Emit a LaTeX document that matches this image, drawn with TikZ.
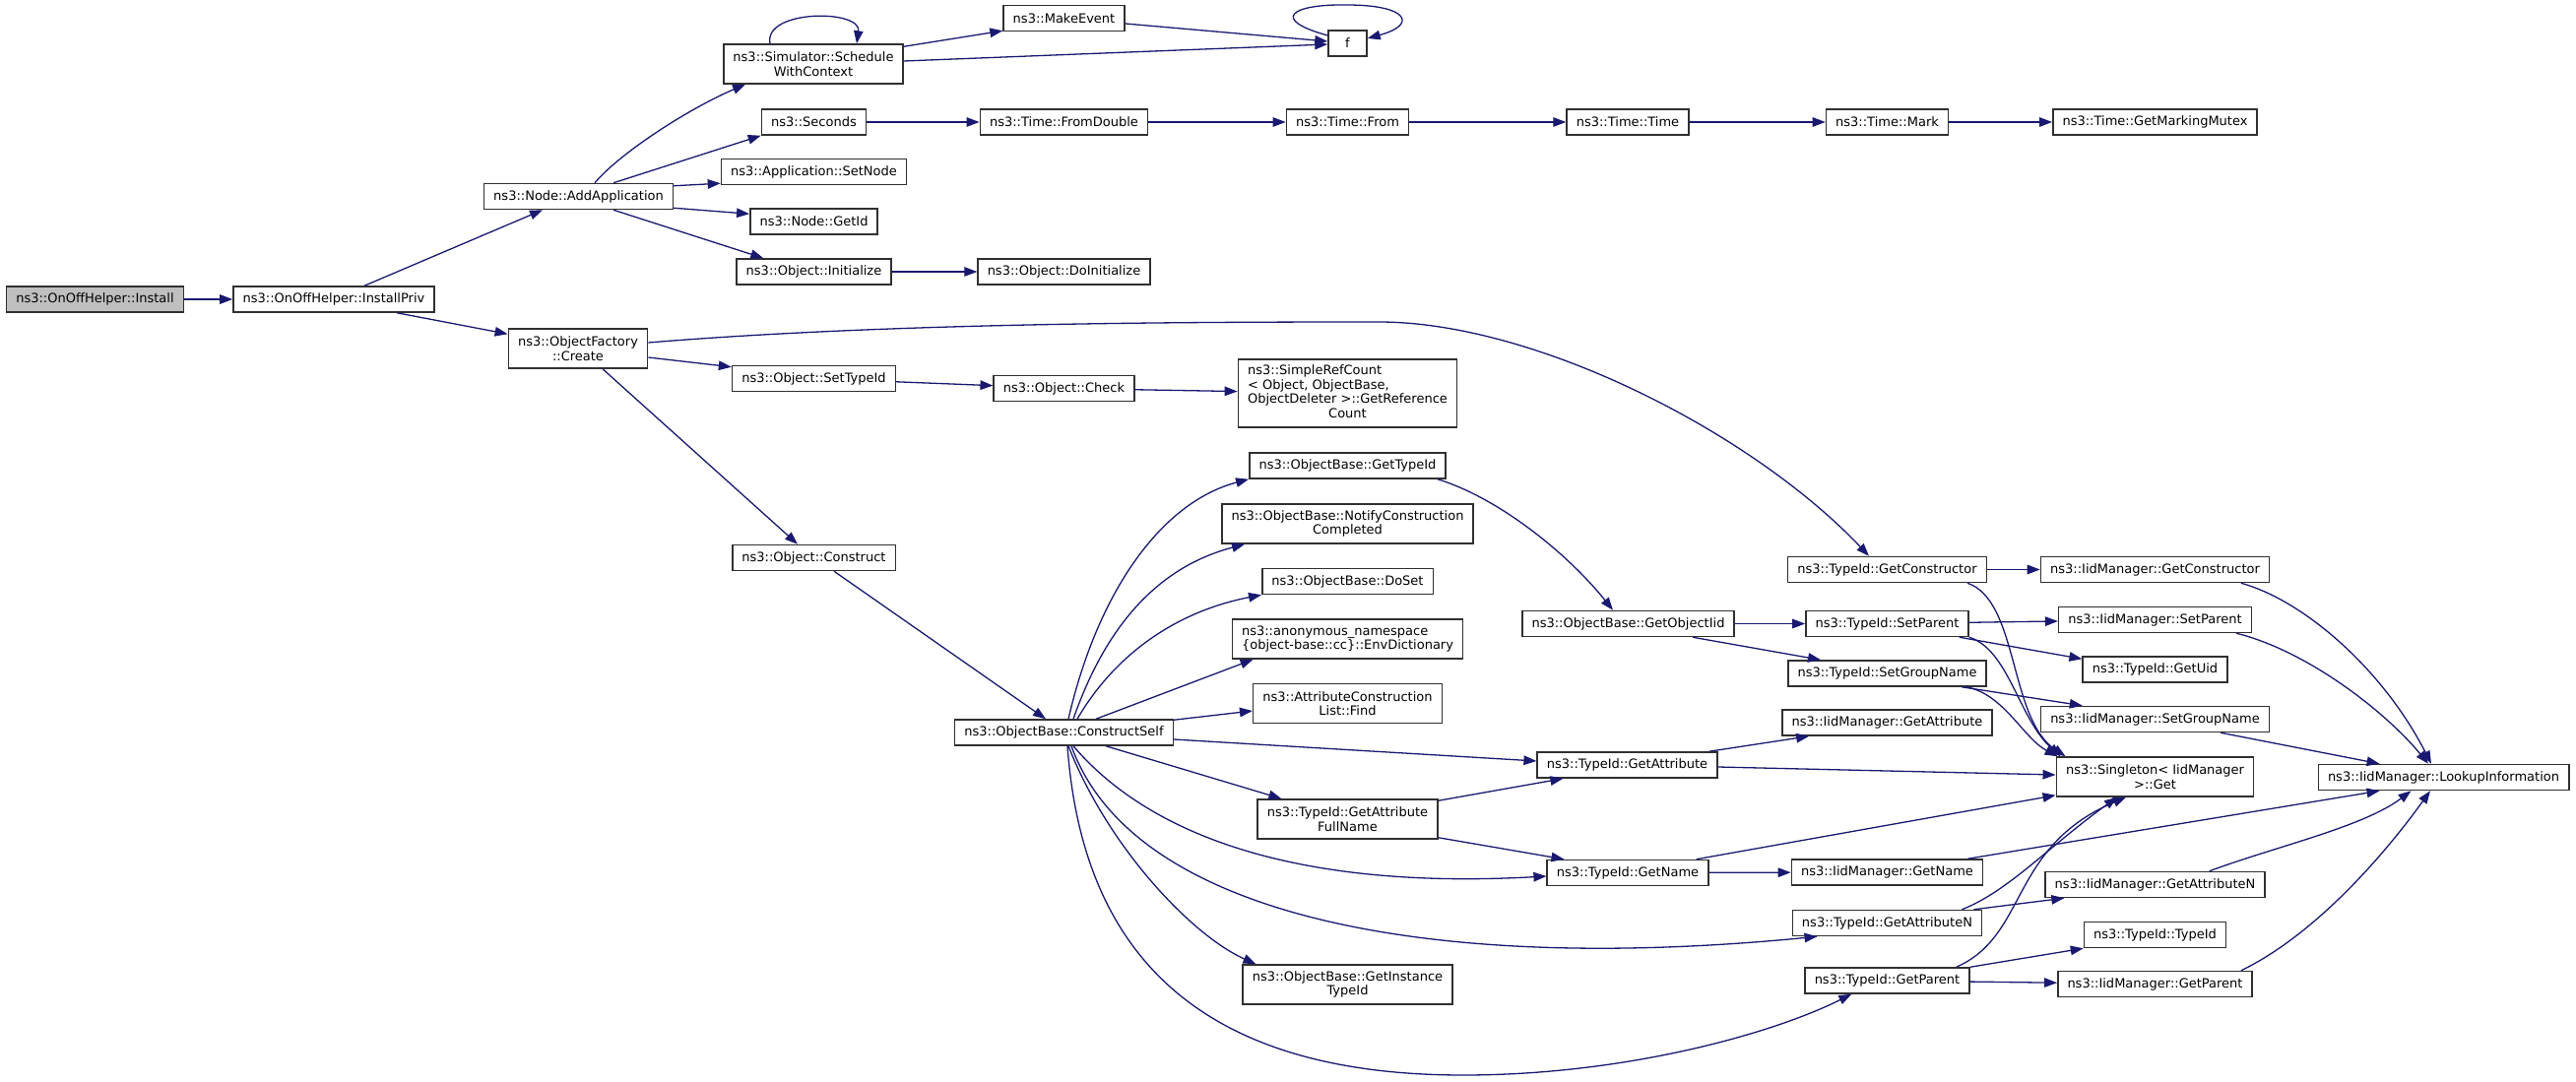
\documentclass[tikz,border=0pt]{standalone}
\usepackage{fontspec}
\setmainfont{DejaVu Sans}
\usepackage{xcolor}
\usepackage{tikz}
\usetikzlibrary{arrows.meta, shapes, positioning}

\definecolor{edgeblue}{HTML}{191970}
\definecolor{nodeborder}{HTML}{303030}
\definecolor{rootfill}{HTML}{BFBFBF}

\begin{document}
\begin{tikzpicture}[
  x=1pt, y=-1pt,
  fnnode/.style={
    draw=nodeborder,
    fill=white,
    rectangle,
    line width=1.5pt,
    align=center,
    inner xsep=9.7pt,
    inner ysep=2pt,
    minimum width=39pt,
    minimum height=26pt,
    font=\fontsize{13}{14.5}\selectfont
  },
  rootnode/.style={fill=rootfill},
  twoline/.style={minimum height=40pt},
  fourline/.style={minimum height=69pt},
  arrow/.style={-{Triangle[length=13pt, width=9.5pt]}, draw=edgeblue, line width=1.3pt}
]
\useasboundingbox (0,0) rectangle (2616,1099);

% Fonctions
\node[fnnode, rootnode] (install) at (96.5,304) {ns3::OnOffHelper::Install};
\node[fnnode] (installpriv) at (339,304) {ns3::OnOffHelper::InstallPriv};
\node[fnnode] (addapp) at (587.5,199.5) {ns3::Node::AddApplication};
\node[fnnode, twoline] (create) at (587,354) {ns3::ObjectFactory\\::Create};

\node[fnnode, twoline] (schedule) at (826,65) {ns3::Simulator::Schedule\\WithContext};
\node[fnnode] (seconds) at (826.5,124) {ns3::Seconds};
\node[fnnode] (setnode) at (826.5,174.5) {ns3::Application::SetNode};
\node[fnnode] (getid) at (826.5,225) {ns3::Node::GetId};
\node[fnnode] (initialize) at (826.5,276) {ns3::Object::Initialize};
\node[fnnode] (settypeid) at (826.5,384.5) {ns3::Object::SetTypeId};
\node[fnnode] (construct) at (826.5,566.5) {ns3::Object::Construct};

\node[fnnode] (makeevent) at (1080.5,18.5) {ns3::MakeEvent};
\node[fnnode] (fromdouble) at (1080.5,124) {ns3::Time::FromDouble};
\node[fnnode] (doinit) at (1080.5,276) {ns3::Object::DoInitialize};
\node[fnnode] (check) at (1080.5,394.5) {ns3::Object::Check};
\node[fnnode] (cself) at (1080.5,744) {ns3::ObjectBase::ConstructSelf};

\node[fnnode] (f) at (1368.5,44) {f};
\node[fnnode] (timefrom) at (1368.5,124) {ns3::Time::From};
\node[fnnode, fourline] (refcount) at (1368.5,399.5) {\begin{tabular}{@{}l@{}}
ns3::SimpleRefCount\\
< Object, ObjectBase,\\
\multicolumn{1}{@{}c@{}}{ObjectDeleter >::GetReference}\\
\multicolumn{1}{@{}c@{}}{Count}
\end{tabular}};
\node[fnnode] (obgettypeid) at (1368.5,473) {ns3::ObjectBase::GetTypeId};
\node[fnnode, twoline] (notify) at (1368.5,532) {ns3::ObjectBase::NotifyConstruction\\Completed};
\node[fnnode] (doset) at (1368.5,590.5) {ns3::ObjectBase::DoSet};
\node[fnnode, twoline, align=left] (envdict) at (1368.5,649) {ns3::anonymous\_namespace\\\{object-base::cc\}::EnvDictionary};
\node[fnnode, twoline] (attrfind) at (1368.5,714.5) {ns3::AttributeConstruction\\List::Find};
\node[fnnode, twoline] (fullname) at (1368.5,832) {ns3::TypeId::GetAttribute\\FullName};
\node[fnnode, twoline] (insttypeid) at (1368.5,1000) {ns3::ObjectBase::GetInstance\\TypeId};

\node[fnnode] (timetime) at (1653,124) {ns3::Time::Time};
\node[fnnode] (getobjiid) at (1653.5,633.5) {ns3::ObjectBase::GetObjectIid};
\node[fnnode] (tgetattr) at (1652.5,777) {ns3::TypeId::GetAttribute};
\node[fnnode] (tgetname) at (1653,886.5) {ns3::TypeId::GetName};

\node[fnnode] (mark) at (1916.5,124) {ns3::Time::Mark};
\node[fnnode] (tgetctor) at (1916.5,578.5) {ns3::TypeId::GetConstructor};
\node[fnnode] (tsetparent) at (1916.5,633.5) {ns3::TypeId::SetParent};
\node[fnnode] (tsetgroup) at (1916.5,684) {ns3::TypeId::SetGroupName};
\node[fnnode] (igetattr) at (1916.5,734) {ns3::IidManager::GetAttribute};
\node[fnnode] (igetname) at (1916.5,886) {ns3::IidManager::GetName};
\node[fnnode] (tgetattrn) at (1916.5,937.5) {ns3::TypeId::GetAttributeN};
\node[fnnode] (tgetparent) at (1916.5,996) {ns3::TypeId::GetParent};

\node[fnnode] (markmutex) at (2188.5,124) {ns3::Time::GetMarkingMutex};
\node[fnnode] (igetctor) at (2188.5,578.5) {ns3::IidManager::GetConstructor};
\node[fnnode] (isetparent) at (2188.5,629.5) {ns3::IidManager::SetParent};
\node[fnnode] (getuid) at (2188.5,680) {ns3::TypeId::GetUid};
\node[fnnode] (isetgroup) at (2188.5,730.5) {ns3::IidManager::SetGroupName};
\node[fnnode, twoline] (singleton) at (2188.5,789) {ns3::Singleton< IidManager\\>::Get};
\node[fnnode] (igetattrn) at (2188.5,898.5) {ns3::IidManager::GetAttributeN};
\node[fnnode] (typeidctor) at (2188.5,949.5) {ns3::TypeId::TypeId};
\node[fnnode] (igetparent) at (2188.5,999.5) {ns3::IidManager::GetParent};

\node[fnnode] (lookup) at (2481.5,789.5) {ns3::IidManager::LookupInformation};

% Appels
\draw[arrow] (install) -- (installpriv);
\draw[arrow] ([xshift=31pt]installpriv.north) -- ([xshift=-36.5pt]addapp.south);
\draw[arrow] ([xshift=64pt]installpriv.south) -- ([yshift=-6pt]create.north west);

\draw[arrow] ([xshift=16.5pt]addapp.north) .. controls (630,155) and (700,110) .. ([xshift=23pt]schedule.south west);
\draw[arrow] ([xshift=35.5pt]addapp.north) -- (seconds.south west);
\draw[arrow] ([yshift=-3pt]addapp.north east) -- ([yshift=2pt]setnode.south west);
\draw[arrow] ([yshift=2pt]addapp.south east) -- ([yshift=-6pt]getid.north west);
\draw[arrow] ([xshift=35.5pt]addapp.south) -- ([xshift=28pt]initialize.north west);

\draw[arrow] ([xshift=-44pt]schedule.north) .. controls +(-7,-35) and +(5,-35) .. ([xshift=44pt]schedule.north);
\draw[arrow] ([yshift=-3pt]schedule.north east) -- ([yshift=1pt]makeevent.south west);
\draw[arrow] ([yshift=3pt]schedule.east) -- ([yshift=-1pt]f.west);
\draw[arrow] ([yshift=-5.5pt]makeevent.east) -- ([yshift=2pt]f.west);
\draw[arrow] ([yshift=8pt]f.west) .. controls (1290,20) and (1310,4) .. (1368,5)
  .. controls (1430,5) and (1440,25) .. ([yshift=5pt]f.east);

\draw[arrow] (seconds) -- (fromdouble);
\draw[arrow] (fromdouble) -- (timefrom);
\draw[arrow] (timefrom) -- (timetime);
\draw[arrow] (timetime) -- (mark);
\draw[arrow] (mark) -- (markmutex);
\draw[arrow] (initialize) -- (doinit);

\draw[arrow] ([yshift=-9pt]create.east) -- ([yshift=-2pt]settypeid.north west);
\draw[arrow] ([xshift=25pt]create.south) -- ([xshift=-16.5pt]construct.north);
\draw[arrow] ([yshift=6pt]create.east) .. controls (900,328) and (1200,327) .. (1400,327)
  .. controls (1560,327) and (1780,440) .. ([xshift=-18.5pt]tgetctor.north);
\draw[arrow] (settypeid) -- (check);
\draw[arrow] (check) -- (refcount);
\draw[arrow] ([xshift=20.5pt]construct.south) -- ([xshift=-18.5pt]cself.north);

\draw[arrow] ([xshift=4.5pt]cself.north) .. controls (1115,600) and (1180,510) .. (obgettypeid.south west);
\draw[arrow] ([xshift=9.5pt]cself.north) .. controls (1125,630) and (1180,575) .. ([xshift=24pt]notify.south west);
\draw[arrow] ([xshift=13.5pt]cself.north) .. controls (1135,660) and (1200,620) .. (doset.south west);
\draw[arrow] ([xshift=32.5pt]cself.north) -- ([xshift=22pt]envdict.south west);
\draw[arrow] ([yshift=-1pt]cself.north east) -- ([yshift=-7.5pt]attrfind.west);
\draw[arrow] ([yshift=-7pt]cself.east) -- ([yshift=4pt]tgetattr.west);
\draw[arrow] ([xshift=42.5pt]cself.south) -- ([xshift=25pt]fullname.north west);
\draw[arrow] ([xshift=9.5pt]cself.south) .. controls (1160,840) and (1300,905) .. ([yshift=-3.5pt]tgetname.west);
\draw[arrow] ([xshift=7.5pt]cself.south) .. controls (1150,930) and (1450,990) .. ([xshift=26pt]tgetattrn.south west);
\draw[arrow] ([xshift=4.5pt]cself.south) .. controls (1125,860) and (1210,950) .. ([xshift=14pt]insttypeid.north west);
\draw[arrow] ([xshift=3.5pt]cself.south) .. controls (1100,980) and (1230,1092) .. (1486,1092)
  .. controls (1650,1092) and (1800,1050) .. ([xshift=48pt]tgetparent.south west);

\draw[arrow] ([xshift=-9pt]obgettypeid.south east) .. controls (1520,505) and (1590,560) .. ([xshift=-15.5pt]getobjiid.north);
\draw[arrow] (getobjiid) -- (tsetparent);
\draw[arrow] ([xshift=65.5pt]getobjiid.south) -- ([xshift=34pt]tsetgroup.north west);

\draw[arrow] (tgetctor) -- (igetctor);
\draw[arrow] ([xshift=-20pt]tgetctor.south east) .. controls (2050,610) and (2040,730) .. ([xshift=10pt]singleton.north west);
\draw[arrow] (tsetparent) -- (isetparent);
\draw[arrow] ([xshift=-10pt]tsetparent.south east) -- ([yshift=-3pt]getuid.north west);
\draw[arrow] (tsetparent.south east) .. controls (2040,660) and (2050,730) .. ([xshift=5pt]singleton.north west);
\draw[arrow] ([xshift=-26pt]tsetgroup.south east) -- ([xshift=43pt]isetgroup.north west);
\draw[arrow] ([xshift=-21pt]tsetgroup.south east) .. controls (2035,705) and (2055,750) .. ([xshift=2pt]singleton.north west);
\draw[arrow] ([xshift=-9pt]tgetattr.north east) -- ([xshift=28pt]igetattr.south west);
\draw[arrow] ([yshift=-2pt]tgetattr.east) -- ([yshift=2pt]singleton.west);
\draw[arrow] ([yshift=-2pt]fullname.north east) -- ([xshift=27pt]tgetattr.south west);
\draw[arrow] ([yshift=2pt]fullname.south east) -- ([xshift=18pt]tgetname.north west);
\draw[arrow] ([xshift=-13pt]tgetname.north east) -- ([yshift=2pt]singleton.south west);
\draw[arrow] (tgetname) -- (igetname);
\draw[arrow] ([xshift=-16pt]igetname.north east) -- ([xshift=63pt]lookup.south west);
\draw[arrow] ([xshift=-21pt]tgetattrn.north east) .. controls (2040,905) and (2080,860) .. ([xshift=-38.5pt]singleton.south);
\draw[arrow] ([xshift=-9pt]tgetattrn.north east) -- ([xshift=20pt]igetattrn.south west);
\draw[arrow] ([xshift=-14pt]tgetparent.north east) .. controls (2060,950) and (2040,860) .. ([xshift=-29.5pt]singleton.south);
\draw[arrow] (tgetparent.north east) -- (typeidctor.south west);
\draw[arrow] (tgetparent) -- (igetparent);

\draw[arrow] ([xshift=-29.5pt]igetctor.south east) .. controls (2340,610) and (2420,680) .. ([xshift=-12.5pt]lookup.north);
\draw[arrow] ([xshift=-16pt]isetparent.south east) .. controls (2340,660) and (2420,720) .. ([xshift=-15.5pt]lookup.north);
\draw[arrow] ([xshift=-50pt]isetgroup.south east) -- ([xshift=63pt]lookup.north west);
\draw[arrow] ([xshift=-57pt]igetattrn.north east) .. controls (2310,860) and (2400,840) .. ([xshift=95pt]lookup.south west);
\draw[arrow] ([xshift=-12pt]igetparent.north east) .. controls (2350,950) and (2420,870) .. ([xshift=-13.5pt]lookup.south);

\end{tikzpicture}
\end{document}
